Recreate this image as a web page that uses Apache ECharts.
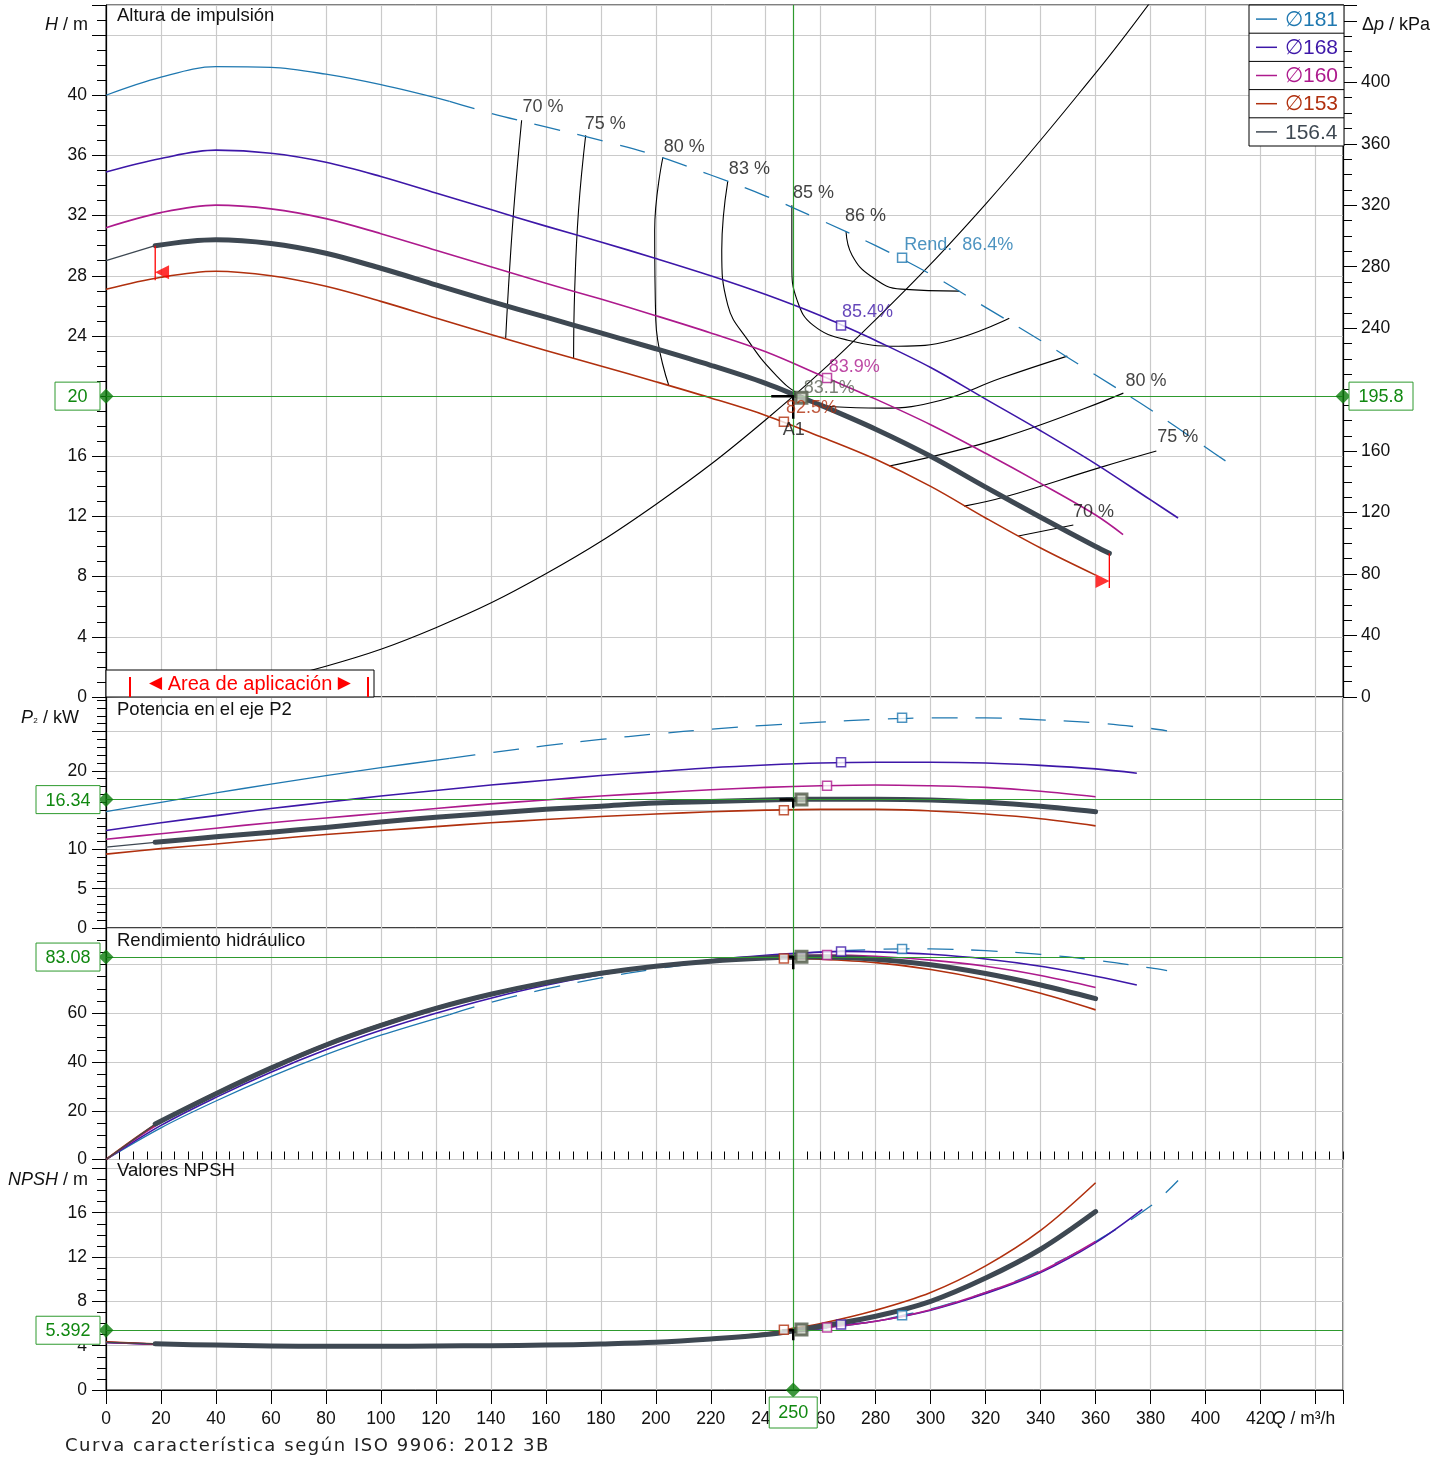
<!DOCTYPE html>
<html><head><meta charset="utf-8">
<script src="https://cdn.jsdelivr.net/npm/echarts/dist/echarts.min.js"></script>
<style>
html,body{margin:0;padding:0;background:#fff;}
#c{width:1451px;height:1459px;position:absolute;left:0;top:0;}
#foot{position:absolute;left:65px;top:1434px;font:18px 'DejaVu Sans',sans-serif;letter-spacing:1.55px;color:#222;white-space:nowrap;}
</style></head><body>
<div id="c"></div>
<div id="foot">Curva característica según ISO 9906: 2012 3B</div>
<script>
// ---------- DATA ----------
const OP_Q = 250, OP_H = 20, OP_DP = 195.8, OP_P2 = 16.34, OP_ETA = 83.08, OP_NPSH = 5.392;
const OP_MARK_Q = 253, OP_MARK = [19.9, 16.36, 83.2, 5.45];

const H_D181 = [[0,40.0],[20,41.2],[40,41.9],[60,41.85],[80,41.4],[100,40.7],[125,39.6],[140,38.8],[160,37.9],[180,37.0],[200,36.0],[220,34.7],[240,33.3],[260,31.7],[280,30.0],[300,28.1],[320,25.9],[340,23.7],[360,21.4],[380,19.1],[400,16.6],[408,15.6]];
const H_D168 = [[0,34.9],[20,35.8],[40,36.35],[60,36.15],[80,35.55],[100,34.6],[120,33.5],[140,32.4],[160,31.3],[180,30.25],[200,29.15],[220,28.0],[240,26.75],[260,25.35],[267.4,24.75],[280,23.7],[300,21.9],[320,19.8],[340,17.7],[360,15.5],[380,13.1],[390,11.9]];
const H_D160 = [[0,31.2],[20,32.2],[40,32.7],[60,32.45],[80,31.8],[100,30.8],[120,29.7],[140,28.6],[160,27.5],[180,26.45],[200,25.35],[220,24.2],[240,22.95],[262.3,21.2],[280,19.8],[300,18.1],[320,16.2],[340,14.2],[360,12.1],[370,10.8]];
const H_D153 = [[0,27.1],[20,27.9],[40,28.3],[60,28.0],[80,27.3],[100,26.3],[120,25.2],[140,24.1],[160,23.04],[180,22.0],[200,20.96],[220,19.88],[240,18.72],[260,17.3],[280,15.8],[300,14.0],[320,11.9],[340,9.9],[360,8.1]];
const H_D156 = [[0,29.0],[17.9,30.0],[40,30.4],[60,30.15],[80,29.5],[100,28.5],[120,27.4],[140,26.3],[160,25.25],[180,24.2],[200,23.15],[220,22.05],[240,20.85],[253,19.9],[260,19.4],[280,17.8],[300,16.0],[320,13.95],[340,11.95],[360,10.0],[365,9.55]];

const P_D181 = [[0,14.8],[20,16.0],[40,17.2],[60,18.3],[80,19.4],[100,20.4],[125,21.6],[140,22.3],[160,23.2],[180,24.0],[200,24.7],[220,25.3],[240,25.8],[260,26.2],[280,26.55],[300,26.75],[320,26.75],[340,26.5],[360,26.1],[380,25.4],[386,25.1]];
const P_D168 = [[0,12.4],[20,13.4],[40,14.3],[60,15.2],[80,16.0],[100,16.8],[120,17.5],[140,18.2],[160,18.8],[180,19.4],[200,19.9],[220,20.4],[240,20.75],[260,21.0],[280,21.1],[300,21.1],[320,21.0],[340,20.7],[360,20.25],[375,19.7]];
const P_D160 = [[0,11.3],[20,12.0],[40,12.7],[60,13.4],[80,14.0],[100,14.6],[120,15.2],[140,15.8],[160,16.3],[180,16.8],[200,17.2],[220,17.6],[240,17.9],[260,18.1],[280,18.2],[300,18.1],[320,17.9],[340,17.4],[360,16.7]];
const P_D156 = [[0,10.3],[17.9,10.9],[40,11.6],[60,12.2],[80,12.8],[100,13.5],[120,14.1],[140,14.6],[160,15.1],[180,15.5],[200,15.9],[220,16.1],[240,16.3],[253,16.36],[260,16.4],[280,16.4],[300,16.3],[320,16.0],[340,15.5],[360,14.8]];
const P_D153 = [[0,9.4],[20,10.1],[40,10.7],[60,11.3],[80,11.9],[100,12.4],[120,12.9],[140,13.4],[160,13.8],[180,14.2],[200,14.5],[220,14.8],[240,15.0],[260,15.1],[280,15.1],[300,14.9],[320,14.5],[340,13.9],[360,13.0]];

const E_D181 = [[0,0],[20,13.0],[40,24.0],[60,34.0],[80,43.0],[100,51.0],[125,59.5],[140,64.5],[160,70.0],[180,74.5],[200,78.2],[220,81.2],[240,83.5],[260,85.2],[280,86.2],[290,86.4],[300,86.4],[320,85.7],[340,84.2],[360,81.8],[380,78.6],[386,77.5]];
const E_D168 = [[0,0],[20,14.0],[40,25.5],[60,35.8],[80,45.0],[100,53.0],[120,60.0],[140,66.2],[160,71.5],[180,75.8],[200,79.2],[220,81.9],[240,83.8],[260,85.1],[267.4,85.4],[280,85.2],[300,84.2],[320,82.3],[340,79.3],[360,75.2],[375,71.6]];
const E_D160 = [[0,0],[20,15.2],[40,26.8],[60,37.0],[80,46.4],[100,54.5],[120,61.5],[140,67.4],[160,72.4],[180,76.4],[200,79.5],[220,81.8],[240,83.3],[262.3,83.9],[280,83.4],[300,81.8],[320,79.3],[340,75.5],[360,70.6]];
const E_D156 = [[0,0],[17.9,14.6],[40,27.0],[60,37.5],[80,47.0],[100,55.0],[120,62.0],[140,67.8],[160,72.6],[180,76.4],[200,79.3],[220,81.4],[240,82.7],[253,83.08],[260,83.1],[280,82.2],[300,79.9],[320,76.3],[340,71.6],[360,66.0]];
const E_D153 = [[0,0],[20,15.8],[40,27.5],[60,38.0],[80,47.5],[100,55.6],[120,62.5],[140,68.2],[160,72.9],[180,76.6],[200,79.4],[220,81.3],[240,82.4],[246.6,82.5],[260,82.2],[280,80.8],[300,78.0],[320,73.8],[340,68.2],[360,61.4]];

const N_D181 = [[0,4.3],[20,4.1],[40,4.0],[60,3.95],[80,3.93],[100,3.93],[125,3.95],[140,3.97],[160,4.02],[180,4.1],[200,4.25],[220,4.5],[240,4.9],[260,5.5],[280,6.2],[290,6.75],[300,7.3],[320,8.8],[340,10.8],[360,13.4],[380,16.6],[390,18.9]];
const N_D168 = [[0,4.3],[20,4.12],[40,4.0],[60,3.95],[80,3.93],[100,3.93],[120,3.95],[140,3.98],[160,4.03],[180,4.12],[200,4.28],[220,4.55],[240,4.95],[260,5.55],[267.4,5.85],[280,6.2],[300,7.2],[320,8.7],[340,10.6],[360,13.3],[377,16.3]];
const N_D160 = [[0,4.3],[20,4.12],[40,4.0],[60,3.95],[80,3.93],[100,3.93],[120,3.95],[140,3.98],[160,4.03],[180,4.12],[200,4.28],[220,4.55],[240,4.98],[262.3,5.65],[280,6.2],[300,7.25],[320,8.8],[340,10.7],[360,13.4]];
const N_D156 = [[0,4.3],[17.9,4.17],[40,4.05],[60,3.98],[80,3.95],[100,3.95],[120,3.97],[140,4.0],[160,4.05],[180,4.15],[200,4.3],[220,4.6],[240,5.0],[253,5.45],[260,5.75],[280,6.65],[300,8.0],[320,10.1],[340,12.7],[360,16.1]];
const N_D153 = [[0,4.35],[20,4.15],[40,4.02],[60,3.97],[80,3.95],[100,3.95],[120,3.97],[140,4.0],[160,4.06],[180,4.17],[200,4.35],[220,4.68],[240,5.15],[246.6,5.43],[260,6.0],[280,7.2],[300,8.8],[320,11.2],[340,14.4],[360,18.7]];

const BEP_Q = [289.6, 267.4, 262.3, 246.6];
const BEP_H = [29.2, 24.7, 21.2, 18.3];
const BEP_P = [26.75, 21.1, 18.1, 15.0];
const BEP_E = [86.4, 85.4, 83.9, 82.5];
const BEP_N = [6.75, 5.9, 5.65, 5.43];

const ISO70L = [[151.2,38.34],[148.6,33.02],[146.8,28.37],[145.4,23.85]];
const ISO75L = [[174.5,37.34],[171.9,32.36],[170.5,27.04],[170.1,22.52]];
const ISO80L = [[202.6,35.88],[199.6,31.03],[200.0,25.05],[204.7,20.73]];
const ISO83 = [[226.2,34.29],[224.0,29.7],[226.2,26.05],[233.5,23.72],[243.7,21.4],[252.8,20.07],[264.8,19.29],[282.0,19.2],[303.8,19.73],[325.7,21.2],[349.7,22.66]];
const ISO85 = [[249.5,32.69],[249.5,28.7],[251.4,26.38],[257.2,24.72],[269.9,23.72],[288.2,23.32],[307.5,23.72],[328.6,25.18]];
const ISO86 = [[269.2,30.96],[271.4,29.37],[278.3,27.97],[289.3,27.11],[310.4,26.98]];
const ISO80R = [[284.9,15.35],[325.7,17.21],[370.1,20.2]];
const ISO75R = [[312.2,12.69],[326.8,13.29],[362.1,15.28],[382.1,16.35]];
const ISO70R = [[331.9,10.7],[351.9,11.43]];
const SYS = [[0,0],[40,0.51],[80,2.05],[120,4.61],[160,8.19],[200,12.8],[240,18.43],[280,25.09],[320,32.77],[360,41.47],[380,46.21]];

const ISO_LABELS = [[151.55,39.2,'70 %'],[174.13,38.07,'75 %'],[202.91,36.54,'80 %'],[226.59,35.08,'83 %'],[249.91,33.49,'85 %'],[268.85,31.96,'86 %'],[370.86,21.02,'80 %'],[382.4,17.29,'75 %'],[351.8,12.31,'70 %']];
const BEP_LABELS = [[290.35,30.03,'Rend.  86.4%'],[267.76,25.58,'85.4%'],[262.9,21.95,'83.9%'],[253.8,20.51,'83.1%'],[247.4,19.18,'82.5%'],[246.2,17.74,'A1']];

const APP_L_LINE = [[17.9,30.0],[17.9,27.7]], APP_L_TRI = [20.4,28.24];
const APP_R_LINE = [[365,9.55],[365,7.24]], APP_R_TRI = [362.5,7.71];
const A1_H = [[242,20.0],[250,20.0],[250,18.5]];
const A1_P = [[245,16.34],[250,16.34],[250,15.3]];
const A1_E = [[245.5,83.08],[250,83.08],[250,78.1]];
const A1_N = [[246,5.392],[250,5.392],[250,4.5]];

const LEGEND = ['∅181','∅168','∅160','∅153','156.4'];

// ---------- STYLE ----------
const FONT = "'Liberation Sans', Arial, Helvetica, sans-serif";
const C181='#1f78b0', C168='#3d17a8', C160='#ad1a8d', C153='#b0300e', C156='#3e4852', C_OPTXT='#5b6355';
const COLORS = [C181, C168, C160, C153, C156];
const GT='#118811', GL='#2e9a2e', GRIDC='#cacaca';

const grids = [
  {left:106, top:5, width:1237, height:692},
  {left:106, top:697, width:1237, height:231},
  {left:106, top:928, width:1237, height:231.5},
  {left:106, top:1159.5, width:1237, height:230.5}
].map(g => Object.assign(g, {show:true, borderColor:'#000', borderWidth:1, backgroundColor:'transparent', containLabel:false, outerBoundsMode:'none'}));

function xa(gi){
  const b = gi===3;
  return {type:'value', gridIndex:gi, min:0, max:450, interval:20,
    axisLine:{show:b, onZero:false, lineStyle:{color:'#000', width:1.2}},
    axisTick:{show:b, length:14, lineStyle:{color:'#000', width:1}},
    minorTick:{show:false}, minorSplitLine:{show:false},
    splitLine:{show:true, lineStyle:{color:GRIDC, width:1.2}},
    axisLabel:{show:b, margin:20, fontSize:17.5, color:'#111', fontFamily:FONT,
      formatter: v => (v%20===0 && v<=420) ? String(v) : ''}};
}
function xMinor(){
  return {type:'value', gridIndex:3, min:0, max:450, interval:5,
    axisLine:{show:false, onZero:false}, axisTick:{show:true, length:8, lineStyle:{color:'#000', width:1}},
    splitLine:{show:false}, axisLabel:{show:false}};
}
function ya(gi, max, interval, hide, pos){
  return {type:'value', gridIndex:gi, min:0, max, interval, position:pos||'left',
    axisLine:{show:true, onZero:false, lineStyle:{color:'#000', width:1.2}},
    axisTick:{show:true, length:14, lineStyle:{color:'#000', width:1}},
    minorTick:{show:false},
    splitLine:{show: pos!=='right', lineStyle:{color:GRIDC, width:1.2}},
    axisLabel:{margin:pos==='right'?18:19, fontSize:17.5, color:'#111', fontFamily:FONT,
      formatter: v => (hide(v) ? '' : String(v))}};
}
function yMinor(gi, max, interval, pos){
  return {type:'value', gridIndex:gi, min:0, max, interval, position:pos||'left',
    axisLine:{show:false, onZero:false}, axisTick:{show:true, length:9, lineStyle:{color:'#000', width:1}},
    splitLine:{show:false}, axisLabel:{show:false}};
}

const yAxes = [
  ya(0, 46, 4, v => v===20 || v>=44),
  ya(0, 450.34, 40, v => v===200 || v>=440, 'right'),
  ya(1, 29.4, 5, v => v===15 || v>=25),
  ya(2, 95, 20, v => v>=80),
  ya(3, 20.8, 4, v => v>=20),
  yMinor(0, 46, 1), yMinor(0, 450.34, 10, 'right'), yMinor(1, 29.4, 1), yMinor(2, 95, 5), yMinor(3, 20.8, 1)
];
const YI = [0,2,3,4];

function L(gi, data, color, width, o){
  o = o || {};
  return {type:'line', xAxisIndex:gi, yAxisIndex:YI[gi], data, smooth:o.smooth===undefined?0.35:o.smooth,
    symbol:'none', silent:true, z:o.z||3, clip:true,
    lineStyle:{color, width, type:o.dash?[26,18]:'solid', cap:o.cap||'butt', join:'round'}};
}
const upto = (d,q) => d.filter(p => p[0] <= q);
const from = (d,q) => d.filter(p => p[0] >= q);

function curves(gi, d181, d168, d160, d153, d156){
  return [
    L(gi, upto(d181,125), C181, 1.3),
    L(gi, from(d181,125), C181, 1.3, {dash:true}),
    L(gi, d168, C168, 1.6),
    L(gi, d160, C160, 1.6),
    L(gi, d153, C153, 1.6),
    L(gi, upto(d156,17.9), C156, 1.3),
    L(gi, from(d156,17.9), C156, 5, {cap:'round', z:4})
  ];
}
function bepMarks(gi, vals){
  return {type:'scatter', xAxisIndex:gi, yAxisIndex:YI[gi], silent:true, z:6, clip:false,
    symbol:'rect', symbolSize:9,
    data: BEP_Q.map((q,i)=>({value:[q, vals[i]], itemStyle:{color:'#fff', borderColor:COLORS[i], borderWidth:1.5}}))};
}
function opMark(gi){
  return {type:'scatter', xAxisIndex:gi, yAxisIndex:YI[gi], silent:true, z:7, clip:false,
    symbol:'rect', symbolSize:11,
    itemStyle:{color:'#c9cec0', borderColor:'#4f5946', borderWidth:3},
    data:[[OP_MARK_Q, OP_MARK[gi]]]};
}
function green(gi, yv, pts){
  return {type:'scatter', xAxisIndex:gi, yAxisIndex:YI[gi], silent:true, z:10, clip:false,
    symbol:'diamond', symbolSize:15, itemStyle:{color:'#0b7d0b'},
    data: pts,
    markLine:{silent:true, symbol:['none','none'], animation:false,
      lineStyle:{color:GL, width:1.2, type:'solid'}, label:{show:false},
      data:[{xAxis:OP_Q},{yAxis:yv}]}};
}
function blackMark(gi, d){ return L(gi, d, '#000', 2.5, {smooth:false, z:5}); }

const series = [];
series.push(L(0, SYS, '#000', 1.1, {smooth:0.4, z:2}));
[ISO70L, ISO75L, ISO80L, ISO83, ISO85, ISO86, ISO80R, ISO75R, ISO70R].forEach(d => series.push(L(0, d, '#000', 1.1, {smooth:0.45, z:2})));
series.push(...curves(0, H_D181, H_D168, H_D160, H_D153, H_D156));
series.push(...curves(1, P_D181, P_D168, P_D160, P_D153, P_D156));
series.push(...curves(2, E_D181, E_D168, E_D160, E_D153, E_D156));
series.push(...curves(3, N_D181, N_D168, N_D160, N_D153, N_D156));
series.push(blackMark(0, A1_H), blackMark(1, A1_P), blackMark(2, A1_E), blackMark(3, A1_N));
series.push(bepMarks(0, BEP_H), bepMarks(1, BEP_P), bepMarks(2, BEP_E), bepMarks(3, BEP_N));
series.push(opMark(0), opMark(1), opMark(2), opMark(3));
series.push(L(0, APP_L_LINE, '#ff0000', 1.3, {smooth:false, z:6}), L(0, APP_R_LINE, '#ff0000', 1.3, {smooth:false, z:6}));
series.push({type:'scatter', xAxisIndex:0, yAxisIndex:0, silent:true, z:6, clip:false, symbol:'triangle', symbolSize:[14,14],
  itemStyle:{color:'#ff0000'},
  data:[{value:APP_L_TRI, symbolRotate:90},{value:APP_R_TRI, symbolRotate:-90}]});
series.push({type:'scatter', xAxisIndex:0, yAxisIndex:0, silent:true, z:8, clip:false, symbolSize:0,
  label:{show:true, position:'right', distance:0, formatter:'{b}', fontSize:18, fontFamily:FONT, color:'#111'},
  data: ISO_LABELS.map(a => ({name:a[2], value:[a[0],a[1]]}))});
const BEP_LABEL_COLORS = [C181, C168, C160, C_OPTXT, C153, '#111'];
series.push({type:'scatter', xAxisIndex:0, yAxisIndex:0, silent:true, z:8, clip:false, symbolSize:0,
  label:{show:true, position:'right', distance:0, formatter:'{b}', fontSize:18, fontFamily:FONT},
  data: BEP_LABELS.map((a,i) => ({name:a[2], value:[a[0],a[1]], label:{color:BEP_LABEL_COLORS[i]}}))});
series.push(green(0, OP_H, [[0,OP_H],[450,OP_H]]));
series.push(green(1, OP_P2, [[0,OP_P2]]));
series.push(green(2, OP_ETA, [[0,OP_ETA]]));
series.push(green(3, OP_NPSH, [[0,OP_NPSH],[OP_Q,0]]));

// ---------- GRAPHIC TEXT ----------
function T(x, y, text, size, align, fill, rich){
  const st = {text, fontSize:size, fontFamily:FONT, fill:fill||'#111', align:align||'left', verticalAlign:'middle'};
  if (rich) st.rich = rich;
  return {type:'text', x, y, z:100, silent:true, style:st};
}
const IT = s => ({fontStyle:'italic', fontSize:s, fontFamily:FONT, fill:'#111'});
const NR = s => ({fontSize:s, fontFamily:FONT, fill:'#111'});
const graphic = [
  T(117, 16, 'Altura de impulsión', 18.5),
  T(117, 710, 'Potencia en el eje P2', 18.5),
  T(117, 941, 'Rendimiento hidráulico', 18.5),
  T(117, 1171, 'Valores NPSH', 18.5),
  T(88, 25, '{i|H}{n| / m}', 18, 'right', null, {i:IT(18), n:NR(18)}),
  T(79, 718, '{i|P}{s|₂}{n| / kW}', 18, 'right', null, {i:IT(18), s:NR(13), n:NR(18)}),
  T(88, 1180, '{i|NPSH}{n| / m}', 18, 'right', null, {i:IT(18), n:NR(18)}),
  T(1362, 25, '{n|Δ}{i|p}{n| / kPa}', 18, 'left', null, {i:IT(18), n:NR(18)}),
  T(1272, 1419, '{i|Q}{n| / m³/h}', 17.5, 'left', null, {i:IT(17.5), n:NR(17.5)}),
  {type:'group', x:106, y:670, z:100, silent:true, children:[
    {type:'rect', z:100, shape:{x:0, y:0, width:268, height:27}, style:{fill:'#fff', stroke:'#000', lineWidth:1}},
    {type:'line', z:101, shape:{x1:24, y1:7, x2:24, y2:27}, style:{stroke:'#ff0000', lineWidth:2}},
    {type:'line', z:101, shape:{x1:262, y1:7, x2:262, y2:27}, style:{stroke:'#ff0000', lineWidth:2}},
    {type:'text', z:101, x:144, y:14, style:{text:'{t|◀} Area de aplicación {t|▶}', fontSize:20, fontFamily:FONT, fill:'#ff0000', align:'center', verticalAlign:'middle',
      rich:{t:{fontSize:17, fontFamily:"'DejaVu Sans', sans-serif", fill:'#ff0000'}}}}
  ]},
  {type:'group', x:1249, y:5, z:100, silent:true, children: (function(){
    const ch = [{type:'rect', z:100, shape:{x:0, y:0, width:95, height:141}, style:{fill:'#fff', stroke:'#000', lineWidth:1}}];
    const rowH = 28.2;
    LEGEND.forEach((t,i) => {
      const cy = rowH*i + rowH/2;
      if (i>0) ch.push({type:'line', z:101, shape:{x1:0, y1:rowH*i, x2:95, y2:rowH*i}, style:{stroke:'#000', lineWidth:1}});
      ch.push({type:'line', z:101, shape:{x1:7, y1:cy, x2:28, y2:cy}, style:{stroke:COLORS[i], lineWidth:1.5}});
      ch.push({type:'text', z:101, x:36, y:cy+1, style:{text:t, fontSize:21, fontFamily:FONT, fill:COLORS[i], align:'left', verticalAlign:'middle'}});
    });
    return ch;
  })()}
];

const chart = echarts.init(document.getElementById('c'), null, {renderer:'canvas'});
chart.setOption({
  animation:false,
  backgroundColor:'#fff',
  grid: grids,
  xAxis: [xa(0), xa(1), xa(2), xa(3), xMinor()],
  yAxis: yAxes,
  series,
  graphic
});

// green value boxes placed through the axes' own scales, drawn on an upper layer
const BOXES = [
  {xi:0, yi:0, v:[0,OP_H], t:String(OP_H), side:'left', w:45},
  {xi:0, yi:0, v:[450,OP_H], t:String(OP_DP), side:'right', w:64},
  {xi:1, yi:2, v:[0,OP_P2], t:String(OP_P2), side:'left', w:64},
  {xi:2, yi:3, v:[0,OP_ETA], t:String(OP_ETA), side:'left', w:64},
  {xi:3, yi:4, v:[0,OP_NPSH], t:String(OP_NPSH), side:'left', w:64},
  {xi:3, yi:4, v:[OP_Q,0], t:String(OP_Q), side:'bottom', w:48}
];
const boxG = [];
BOXES.forEach(b => {
  const p = chart.convertToPixel({xAxisIndex:b.xi, yAxisIndex:b.yi}, b.v);
  let x, y, h = 28;
  if (b.side==='left') { x = p[0]-6-b.w; y = p[1]-h/2; }
  else if (b.side==='right') { x = p[0]+6; y = p[1]-h/2; }
  else { h = 31; x = p[0]-b.w/2; y = p[1]+7; }
  boxG.push({type:'rect', zlevel:2, z:200, silent:true, shape:{x, y, width:b.w, height:h}, style:{fill:'#fff', stroke:GL, lineWidth:1}});
  boxG.push({type:'text', zlevel:2, z:201, silent:true, x:x+b.w/2, y:y+h/2+1, style:{text:b.t, fontSize:18, fontFamily:FONT, fill:GT, align:'center', verticalAlign:'middle'}});
});
chart.setOption({graphic: graphic.concat(boxG)});
</script>
</body></html>
